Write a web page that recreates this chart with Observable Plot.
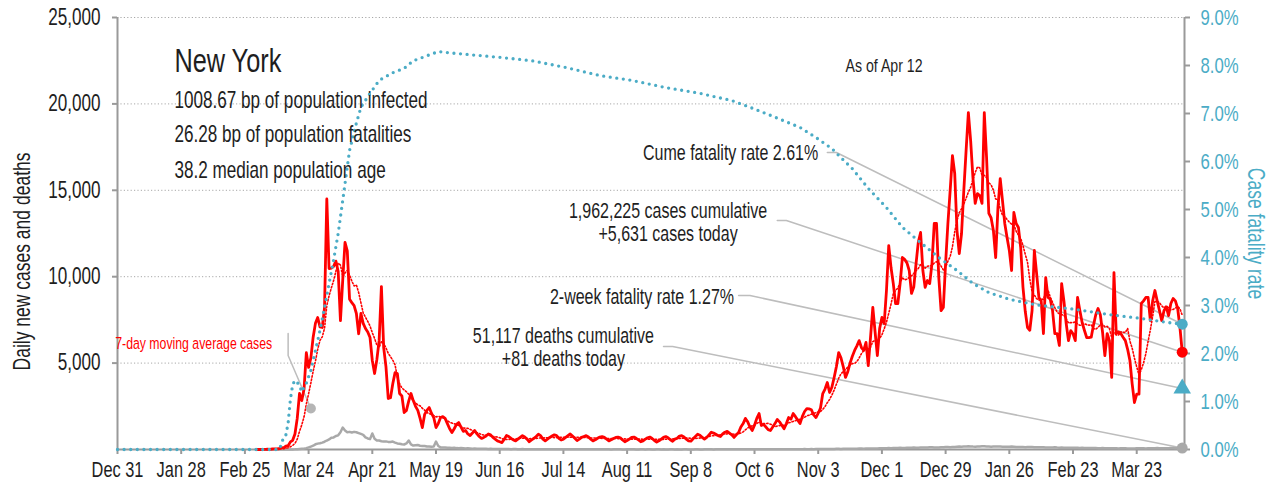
<!DOCTYPE html>
<html><head><meta charset="utf-8">
<script src="https://cdn.jsdelivr.net/npm/d3@7"></script>
<script src="https://cdn.jsdelivr.net/npm/@observablehq/plot@0.6"></script>
<style>body{margin:0;background:#fff;} svg{overflow:visible}</style>
</head><body><div id="chart"></div>
<script>
// ---------- DATA ----------
const seriesStart = "2020-03-01";
const cases2020Mar = [1,0,1,9,11,22,13,29,37,31,43,107,93,193,221,440,530,900,1800,3240,2830,3500,5600,4750,5300,6500,7300,7640,7100,7060,8200];
const cases2020Apr = [14500,10470,10500,10600,10900,10300,7460,9800,11980,11500,8700,8500,8330,7870,6700,7870,7300,7000,6800,6480,5150,4400,5200,6300,9430,5900,4800,2950,3000,3800];
const cases2020May = [4450,4400,3240,3100,2140,2260,2800,3240,2830,2500,2260,1800,1270,2030,2260,2430,2100,1850,1270,1500,1850,1900,1800,1500,1200,980,1200,1450,1560,1300,1050];
const cases2020Jun = [1100,900,810,950,1100,900,750,640,700,780,900,850,700,600,500,450,400,600,810,750,650,550,500,600,700,800,720,600,450,550];
const cases2020Jul = [650,750,880,800,600,500,600,700,780,850,800,650,550,600,700,800,900,780,650,520,600,700,750,800,720,600,500,560,650,720,750];
const cases2020Aug = [700,600,500,560,640,700,720,680,550,450,520,600,700,720,650,550,450,500,600,680,720,640,520,430,500,600,700,750,680,560,480];
const cases2020Sep = [600,650,780,800,720,600,500,480,620,750,880,820,700,600,700,850,1000,950,880,800,750,900,1000,1050,950,850,700,850,980,1300];
const cases2020Oct = [1500,1800,1600,1300,1100,1400,1800,2080,1390,1450,1300,1150,1100,1300,1500,1740,1600,1400,1200,1500,1850,1750,2080,1900,1700,1500,1900,2200,2370,2350,2300];
const cases2020Nov = [2000,1850,2100,2400,3240,3500,3880,3300,3600,4170,4800,5610,5300,4800,4170,4500,5000,5400,5730,6000,6300,5900,5730,6200,4860,6500,8220,6800,5440,7000];
const cases2020Dec = [7640,7290,9200,11800,10530,9600,8450,8450,9600,11110,11000,10800,10360,9030,9400,10760,12000,12560,10360,9380,9780,9600,10760,13080,13080,9950,8040,8220,10800,13080,15000];
const cases2021Jan = [17010,15970,12670,11340,12500,15000,17300,19500,17880,15740,14240,14810,14700,14240,19500,16900,13660,13400,12670,11110,14000,15680,14400,13080,12270,11520,10360,13720,13080,12850,11690];
const cases2021Feb = [9400,8000,7060,6900,8040,11520,10180,8800,8600,6710,9950,8800,8700,8040,6710,6710,6020,9600,8600,7290,6300,6880,6700,6300,8800,8040,7350,6900];
const cases2021Mar = [6480,6480,6500,7200,7800,8160,7800,6770,5440,6710,6300,4170,10240,6710,6800,6710,6500,6300,5800,5150,3800,2720,3200,3200,8450,8600,8800,8800,7460,8600,9200];
const cases2021Apr = [8600,8040,7460,8040,8250,7750,8450,8740,8600,8160,7060,5631];

const deaths2020Mar = [0,0,0,0,0,0,0,0,0,0,0,0,0,0,3,5,7,12,20,30,40,50,80,120,170,220,300,340,360,400,450];
const deaths2020Apr = [520,580,680,700,780,820,1000,1270,1100,1000,1020,980,1020,1000,950,900,850,700,640,600,930,620,520,520,480,460,470,440,430,460];
const deaths2020May = [400,350,330,300,290,350,520,300,230,250,260,220,200,200,170,180,160,170,460,200,120,110,120,100,100,90,100,80,70,80,70];
const deaths2020Jun = [60,70,60,50,55,45,40,50,45,40,35,40,30,35,30,28,25,30,28,25,20,22,25,20,18,22,20,15,18,20];
const deaths2020Jul = [15,18,16,14,12,15,14,16,12,10,12,14,11,10,12,13,11,9,10,12,11,10,13,12,10,9,11,12,10,9,10];
const deaths2020Aug = [8,10,9,7,9,10,8,9,7,6,8,9,10,8,7,6,8,9,7,8,9,7,6,8,9,7,8,6,7,8,9];
const deaths2020Sep = [7,8,6,7,9,8,6,5,7,8,9,7,6,8,9,10,8,7,9,8,10,9,8,9,10,11,8,9,10,12];
const deaths2020Oct = [12,10,11,13,9,12,14,13,11,10,12,14,13,15,12,11,14,16,13,15,17,15,14,16,18,17,20,22,19,21,23];
const deaths2020Nov = [20,22,25,28,26,30,32,35,30,33,38,40,36,42,45,40,44,48,50,46,52,55,50,58,60,55,62,65,60,68];
const deaths2020Dec = [70,72,75,80,78,85,82,90,95,88,92,100,98,105,110,102,108,115,120,112,118,125,128,120,115,110,125,135,140,138,130];
const deaths2021Jan = [140,150,160,170,165,175,180,185,178,170,165,172,180,190,185,175,168,160,170,175,180,172,165,160,155,165,170,160,150,148,145];
const deaths2021Feb = [140,135,150,145,138,130,125,130,135,128,120,115,118,122,125,110,105,112,108,100,98,102,105,100,95,92,98,90];
const deaths2021Mar = [88,85,90,82,80,78,75,80,72,70,75,78,70,68,65,70,72,68,65,62,60,65,68,70,72,68,65,70,72,75,78];
const deaths2021Apr = [80,76,72,70,75,78,82,80,76,79,84,81];

// case fatality rate, percent
const cfrDates = ["2019-12-31","2020-03-11","2020-03-12","2020-03-13","2020-03-14","2020-03-15","2020-03-16","2020-03-17","2020-03-18","2020-03-19","2020-03-20","2020-03-21","2020-03-22","2020-03-23","2020-03-25","2020-03-27","2020-03-29","2020-03-31","2020-04-02","2020-04-04","2020-04-06","2020-04-08","2020-04-11","2020-04-14","2020-04-16","2020-04-20","2020-04-24","2020-04-30","2020-05-05","2020-05-09","2020-05-12","2020-05-20","2020-05-28","2020-06-16","2020-06-30","2020-07-15","2020-07-30","2020-08-13","2020-08-28","2020-09-12","2020-09-26","2020-10-04","2020-10-11","2020-10-26","2020-11-02","2020-11-09","2020-11-13","2020-11-18","2020-11-25","2020-12-03","2020-12-10","2020-12-17","2020-12-26","2021-01-03","2021-01-10","2021-01-17","2021-01-26","2021-02-04","2021-02-09","2021-02-24","2021-03-11","2021-03-25","2021-04-05","2021-04-12"];
const cfrValues = [0,0,0.1,0.26,0.3,0.55,1.05,1.35,1.44,1.4,1.33,1.2,1.3,1.38,1.65,2.06,2.48,2.96,3.46,3.95,4.5,5.19,6.23,6.8,7.13,7.42,7.69,7.85,7.94,8.1,8.15,8.29,8.25,8.17,8.1,7.96,7.79,7.69,7.54,7.42,7.27,7.13,7.0,6.71,6.5,6.27,6.08,5.85,5.44,5.04,4.63,4.35,4.0,3.73,3.46,3.27,3.13,3.04,3.0,2.92,2.81,2.73,2.65,2.61];
const twoWeekCfr = 1.27;

const leftTicks = [5000,10000,15000,20000,25000];
const rightTicksPct = [0,1,2,3,4,5,6,7,8,9];
const xTickDates = ["2019-12-31","2020-01-28","2020-02-25","2020-03-24","2020-04-21","2020-05-19","2020-06-16","2020-07-14","2020-08-11","2020-09-08","2020-10-06","2020-11-03","2020-12-01","2020-12-29","2021-01-26","2021-02-23","2021-03-23"];

const titleText = "New York";
const infoLines = ["1008.67 bp of population infected","26.28 bp of population fatalities","38.2 median population age"];
const asOfText = "As of Apr 12";
const cumeText = "Cume fatality rate 2.61%";
const casesText = "1,962,225 cases cumulative\n+5,631 cases today";
const twoWeekText = "2-week fatality rate 1.27%";
const deathsText = "51,117 deaths cumulative\n+81 deaths today";
const maText = "7-day moving average cases";
const leftTitle = "Daily new cases and deaths";
const rightTitle = "Case fatality rate";

// ---------- BUILD ----------
const D = s => new Date(s + "T00:00:00Z");
const FONT = "'Liberation Sans', Arial, sans-serif";
const SQUEEZE = 0.745;
const TEAL = "#4bacc6", RED = "#ff0000", INK = "#1e1e1e", AXIS = "#9a9a9a", LEAD = "#bdbdbd";
const yMax = 25000, pctMax = 9, perPct = yMax / pctMax;
const xStart = D("2019-12-31"), xEnd = D("2021-04-13");

const dailyCases = [].concat(cases2020Mar,cases2020Apr,cases2020May,cases2020Jun,cases2020Jul,cases2020Aug,cases2020Sep,cases2020Oct,cases2020Nov,cases2020Dec,cases2021Jan,cases2021Feb,cases2021Mar,cases2021Apr);
const dailyDeaths = [].concat(deaths2020Mar,deaths2020Apr,deaths2020May,deaths2020Jun,deaths2020Jul,deaths2020Aug,deaths2020Sep,deaths2020Oct,deaths2020Nov,deaths2020Dec,deaths2021Jan,deaths2021Feb,deaths2021Mar,deaths2021Apr);
const daily = dailyCases.map((c, i) => ({date: d3.utcDay.offset(D(seriesStart), i), cases: c, deaths: dailyDeaths[i]}));
const cfr = cfrDates.map((d, i) => ({date: D(d), y: cfrValues[i] * perPct}));
const last = daily[daily.length - 1];
const lastCfr = cfr[cfr.length - 1];

// annotation anchors (data space)
const startNotes = [
  {date: "2020-01-25", value: 22500, text: titleText, size: 34, fill: INK},
  {date: "2020-01-25", value: 20200, text: infoLines[0], size: 23, fill: INK},
  {date: "2020-01-25", value: 18230, text: infoLines[1], size: 23, fill: INK},
  {date: "2020-01-25", value: 16150, text: infoLines[2], size: 23, fill: INK},
  {date: "2020-11-15", value: 22200, text: asOfText, size: 19, fill: INK},
  {date: "2019-12-30", value: 6134, text: maText, size: 16.5, fill: RED}
].map(d => ({...d, date: D(d.date)}));
const endNotes = [
  {date: "2020-11-03", value: 17130, text: cumeText, size: 21.5},
  {date: "2020-09-27", value: 8800, text: twoWeekText, size: 21.5}
].map(d => ({...d, date: D(d.date)}));
const midNotes = [
  {date: "2020-08-29", value: 13165, text: casesText, size: 21.5},
  {date: "2020-07-14", value: 5930, text: deathsText, size: 21.5}
].map(d => ({...d, date: D(d.date)}));

const leaders = [
  {k: "cume", pts: [["2020-11-07", 17190], ["2020-11-11", 17190], [null, lastCfr.y]]},
  {k: "cases", pts: [["2020-10-16", 13250], ["2020-10-20", 13250], [null, last.cases]]},
  {k: "two", pts: [["2020-09-29", 8910], ["2020-10-04", 8910], [null, twoWeekCfr * perPct]]},
  {k: "deaths", pts: [["2020-08-27", 5960], ["2020-08-31", 5960], [null, last.deaths]]},
  {k: "ma", pts: [["2020-03-15", 6713], ["2020-03-15", 5440], ["2020-03-25", 2373]]}
].flatMap(l => l.pts.map(([d, v]) => ({k: l.k, date: d ? D(d) : last.date, value: v})));

const maDot = [{date: D("2020-03-25"), value: 2373}];

const chart = Plot.plot({
  width: 1270, height: 491,
  marginLeft: 117, marginRight: 86, marginTop: 17, marginBottom: 42,
  x: {type: "utc", domain: [xStart, xEnd]},
  y: {domain: [0, yMax]},
  style: {fontFamily: FONT, fontSize: "22px", color: INK, background: "#fff", overflow: "visible"},
  marks: [
    Plot.ruleY(leftTicks, {stroke: "#a8a8a8", strokeWidth: 1, strokeDasharray: "1.2,2.2"}),
    Plot.axisY({ticks: leftTicks, anchor: "left", tickFormat: d3.format(","), tickSize: 5, tickPadding: 12, stroke: AXIS, strokeWidth: 2, fill: INK, fontSize: 23, label: null}),
    Plot.axisY({ticks: rightTicksPct.map(p => p * perPct), anchor: "right", tickFormat: d => (d / perPct).toFixed(1) + "%", tickSize: 5, tickPadding: 11, stroke: AXIS, strokeWidth: 2, fill: TEAL, fontSize: 22.5, label: null}),
    Plot.axisX({ticks: xTickDates.map(D), tickFormat: d3.utcFormat("%b %-d"), tickSize: 5, tickPadding: 7, stroke: AXIS, strokeWidth: 2, fill: INK, fontSize: 22, label: null}),
    Plot.text([leftTitle], {frameAnchor: "left", text: d => d, rotate: -90, textAnchor: "middle", dx: -95, dy: 28, fontSize: 23.5, fill: INK}),
    Plot.text([rightTitle], {frameAnchor: "right", text: d => d, rotate: 90, textAnchor: "middle", dx: 71, fontSize: 23.5, fill: TEAL}),
    Plot.ruleX([xStart, xEnd], {stroke: AXIS, strokeWidth: 2}),
    Plot.ruleY([0], {stroke: AXIS, strokeWidth: 2}),
    Plot.line(leaders, {x: "date", y: "value", z: "k", stroke: LEAD, strokeWidth: 1.5}),
    Plot.lineY(daily, {x: "date", y: "deaths", stroke: "#a9a9a9", strokeWidth: 2.5}),
    Plot.lineY(daily, {x: "date", y: "cases", stroke: RED, strokeWidth: 2.8, strokeLinejoin: "round"}),
    Plot.lineY(daily, Plot.windowY({k: 7, anchor: "end"}, {x: "date", y: "cases", stroke: RED, strokeWidth: 1.6, strokeDasharray: "1.4,2"})),
    Plot.line(cfr, {x: "date", y: "y", stroke: TEAL, strokeWidth: 3.3, strokeDasharray: "0,6.6", strokeLinecap: "round"}),
    Plot.text(startNotes, {x: "date", y: "value", text: "text", fontSize: "size", fill: "fill", textAnchor: "start", lineAnchor: "middle"}),
    Plot.text(endNotes, {x: "date", y: "value", text: "text", fontSize: "size", fill: INK, textAnchor: "end", lineAnchor: "middle"}),
    Plot.text(midNotes, {x: "date", y: "value", text: "text", fontSize: "size", fill: INK, textAnchor: "middle", lineAnchor: "middle", lineHeight: 1.1}),
    Plot.dot(maDot, {x: "date", y: "value", r: 5, fill: "#b5b5b5"}),
    Plot.dot([last], {x: "date", y: "deaths", r: 5.5, fill: "#a9a9a9"}),
    Plot.dot([last], {x: "date", y: "cases", r: 5.5, fill: RED}),
    Plot.dot([lastCfr], {x: "date", y: "y", r: 5.5, fill: TEAL}),
    Plot.dot([{date: last.date, value: twoWeekCfr * perPct}], {x: "date", y: "value", r: 6.5, symbol: "triangle", fill: TEAL})
  ]
});
document.getElementById("chart").append(chart);

// condense every label along its own baseline, around its anchor point (the reference uses a condensed face)
chart.querySelectorAll("text").forEach(t => {
  let x = parseFloat(t.getAttribute("x"));
  if (!isFinite(x)) x = 0;
  const base = t.getAttribute("transform") || "";
  t.setAttribute("transform", `${base} translate(${x},0) scale(${SQUEEZE},1) translate(${-x},0)`.trim());
});
</script>
</body></html>
